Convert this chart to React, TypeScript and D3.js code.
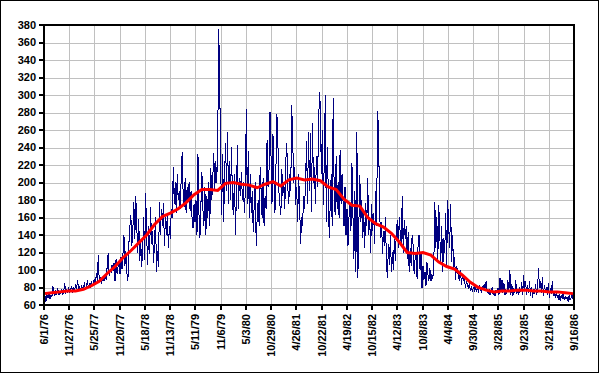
import React from 'react';
import * as d3 from 'd3';

// x axis labels (every 179 days) and y ticks
const tickLabels = [
  '6/1/76', '11/27/76', '5/25/77', '11/20/77', '5/18/78', '11/13/78', '5/11/79', '11/6/79',
  '5/3/80', '10/29/80', '4/26/81', '10/22/81', '4/19/82', '10/15/82', '4/12/83', '10/8/83',
  '4/4/84', '9/30/84', '3/28/85', '9/23/85', '3/21/86', '9/16/86',
];
const yTicks = [60, 80, 100, 120, 140, 160, 180, 200, 220, 240, 260, 280, 300, 320, 340, 360, 380];

// weekly values, starting 6/1/76
const from1976 = [
  66, 70, 64, 72, 68, 75, 67, 71, 69, 82,
  74, 70, 77, 72, 79, 71, 75, 73, 78, 72,
  76, 85, 73, 78, 74, 80, 75, 77, 82, 74,
  79, 76, 84, 78, 89, 77, 81, 76, 83, 79,
  80, 86, 77, 82, 88, 79, 84, 81, 87, 83,
  85, 90, 83, 96, 88, 117, 86, 92, 84, 89,
  91, 87, 95, 89, 104, 119, 93, 100, 97, 106,
  99, 108, 87, 112, 96, 104, 110, 95, 115, 101,
  118, 140, 105, 122, 96, 87, 130, 150, 163, 128,
  145, 178, 135, 185, 150, 120, 158, 110, 132, 104,
];
const from1978 = [
  125, 160, 112, 188, 140, 106, 150, 118, 172, 130,
  145, 108, 132, 160, 98, 122, 104, 178, 140, 170,
  150, 176, 128, 160, 140, 165, 125, 150, 135, 170,
  160, 218, 175, 200, 165, 210, 180, 190, 170, 205,
  235, 185, 172, 205, 165, 195, 178, 200, 168, 190,
  160, 148, 175, 155, 180, 140, 232, 165, 137, 175,
  212, 170, 150, 195, 140, 185, 160, 200, 150, 216,
  180, 205, 234, 190, 225, 200, 240, 375, 320, 217,
  163, 232, 155, 210, 245, 190, 258, 175, 225, 180,
  240, 175, 163, 210, 140, 190, 243, 170, 205, 185,
];
const from1980 = [
  212, 180, 200, 165, 190, 284, 175, 236, 160, 210,
  165, 190, 143, 175, 200, 128, 160, 180, 150, 218,
  190, 160, 205, 150, 185, 170, 248, 195, 215, 280,
  230, 175, 255, 200, 165, 215, 278, 245, 190, 175,
  163, 215, 185, 200, 170, 225, 245, 195, 175, 210,
  190, 288, 248, 200, 218, 174, 195, 155, 210, 175,
  130, 160, 150, 185, 170, 200, 247, 175, 258, 190,
  256, 166, 268, 200, 218, 176, 230, 195, 250, 303,
  288, 210, 260, 174, 225, 300, 155, 240, 193, 137,
  175, 210, 150, 297, 190, 163, 230, 170, 200, 160,
];
const from1982 = [
  237, 175, 210, 178, 150, 195, 140, 170, 128, 160,
  175, 145, 222, 165, 113, 190, 98, 258, 91, 150,
  208, 155, 180, 137, 165, 125, 176, 150, 205, 140,
  160, 120, 175, 145, 165, 130, 190, 150, 282, 256,
  170, 137, 155, 118, 145, 128, 160, 105, 91, 130,
  106, 140, 98, 120, 100, 135, 110, 145, 157, 125,
  160, 140, 130, 185, 120, 157, 135, 150, 113, 143,
  98, 125, 105, 140, 128, 95, 113, 120, 90, 128,
  140, 100, 118, 79, 105, 89, 98, 82, 109, 95,
  88, 102, 87, 95, 90, 110, 178, 125, 160, 110,
];
const from1984 = [
  174, 140, 109, 150, 98, 137, 120, 165, 105, 180,
  150, 125, 175, 109, 140, 102, 115, 89, 105, 98,
  92, 87, 100, 83, 95, 88, 90, 80, 86, 84,
  78, 85, 76, 82, 75, 80, 77, 83, 75, 79,
  76, 83, 78, 75, 81, 77, 84, 79, 87, 76,
  73, 78, 71, 76, 80, 72, 75, 70, 77, 74,
  79, 72, 91, 76, 89, 74, 85, 71, 78, 73,
  88, 76, 100, 72, 84, 70, 79, 74, 88, 73,
  77, 71, 80, 75, 86, 72, 94, 76, 87, 71,
  83, 74, 87, 70, 80, 68, 78, 73, 84, 72,
];
const from1986 = [
  76, 102, 80, 87, 74, 92, 70, 83, 75, 78,
  71, 85, 68, 79, 73, 87, 70, 76, 68, 74,
  70, 67, 72, 65, 71, 68, 73, 66, 70, 67,
  69, 64, 71, 66, 68, 72, 67,
];

// moving average, one value every 8 weeks
const trend = [
  73, 74, 75, 76, 76, 78, 82, 87, 96, 104,
  114, 122, 131, 140, 152, 161, 165, 170, 177, 186,
  192, 192, 191, 199, 200, 198, 197, 194, 198, 201,
  196, 203, 205, 203, 204, 202, 195, 192, 181, 174,
  173, 160, 153, 149, 142, 132, 120, 119, 120, 117,
  109, 104, 101, 94, 86, 80, 77, 75, 76, 76,
  77, 77, 76, 76, 75, 75, 74, 73,
];

const weekly = [...from1976, ...from1978, ...from1980, ...from1982, ...from1984, ...from1986];

const W = 599;
const H = 373;
const left = 44, top = 25, right = 574, bottom = 305;
const font = "'Liberation Sans', Arial, sans-serif";

const parse = d3.utcParse('%m/%d/%y');
const start = parse('6/1/76') as Date;
const end = parse('9/16/86') as Date;

export default function App() {
  const x = d3.scaleUtc().domain([start, end]).range([left, right]);
  const y = d3.scaleLinear().domain([60, 380]).range([bottom, top]);
  const ticks = tickLabels.map(t => ({ label: t, px: Math.round(x(parse(t) as Date)) }));

  const blue = d3
    .line<number>()
    .x((d, i) => x(d3.utcDay.offset(start, 7 * i)))
    .y(d => y(d))(weekly);
  const red = d3
    .line<number>()
    .x((d, i) => x(d3.utcDay.offset(start, 56 * i)))
    .y(d => y(d))(trend);

  return (
    <svg width={W} height={H} style={{ position: 'absolute', left: 0, top: 0 }}>
      <rect x={0.5} y={0.5} width={W - 1} height={H - 1} fill="#fff" stroke="#000" />
      <g stroke="#c0c0c0" strokeWidth={1}>
        {yTicks.slice(1, -1).map(v => (
          <line key={v} x1={left} x2={right} y1={Math.round(y(v)) + 0.5} y2={Math.round(y(v)) + 0.5} />
        ))}
        {ticks.slice(1, -1).map(t => (
          <line key={t.label} x1={t.px + 0.5} x2={t.px + 0.5} y1={top} y2={bottom} />
        ))}
      </g>
      <path d={blue ?? ''} fill="none" stroke="#000080" strokeWidth={1} shapeRendering="crispEdges" />
      <path d={red ?? ''} fill="none" stroke="#ff0000" strokeWidth={3} />
      <rect x={left} y={top} width={right - left} height={bottom - top} fill="none" stroke="#000" strokeWidth={2} />
      <g stroke="#000" strokeWidth={2}>
        {yTicks.map(v => (
          <line key={v} x1={left - 5} x2={left} y1={Math.round(y(v))} y2={Math.round(y(v))} />
        ))}
        {ticks.map(t => (
          <line key={t.label} x1={t.px} x2={t.px} y1={bottom} y2={bottom + 5} />
        ))}
      </g>
      <g fontFamily={font} fontWeight="bold" fontSize={11} fill="#000">
        {yTicks.map(v => (
          <text key={v} x={36} y={y(v)} dy="0.35em" textAnchor="end">{v}</text>
        ))}
        {ticks.map(t => (
          <text key={t.label} transform={`translate(${t.px},314) rotate(-90)`} dy="0.35em" textAnchor="end">
            {t.label}
          </text>
        ))}
      </g>
    </svg>
  );
}
